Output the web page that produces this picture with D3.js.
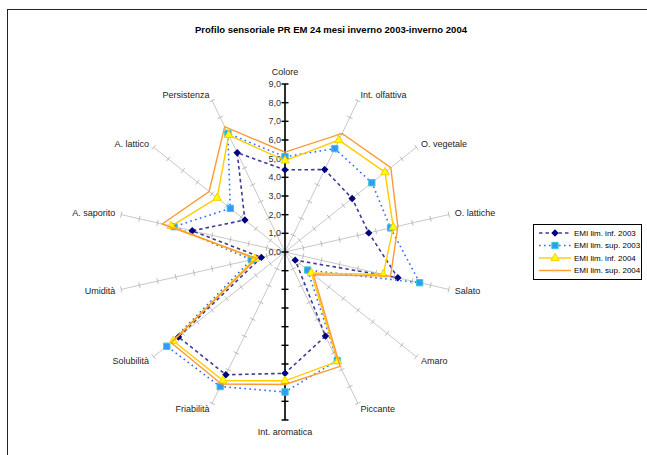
<!DOCTYPE html>
<html>
<head>
<meta charset="utf-8">
<script src="https://cdn.jsdelivr.net/npm/d3@7"></script>
<style>
	body { margin: 0; background: #fff; }
	svg { display: block; font-family: "Liberation Sans", Arial, sans-serif; }
</style>
</head>
<body>
<svg id="chart" width="647" height="455"></svg>
<script>
'use strict';

// categories clockwise from the top
var categories = ["Colore", "Int. olfattiva", "O. vegetale", "O. lattiche", "Salato", "Amaro", "Piccante",
	"Int. aromatica", "Friabilità", "Solubilità", "Umidità", "A. saporito", "A. lattico", "Persistenza"];

var inf2003 = [4.4, 4.9, 4.6, 4.6, 6.2, 0.7, 5.0, 6.5, 7.3, 7.3, 1.3, 5.1, 2.75, 5.9];
var sup2003 = [5.1, 6.15, 5.95, 5.8, 7.4, 1.55, 6.45, 7.5, 8.0, 8.1, 1.85, 6.1, 3.75, 7.05];
var inf2004 = [4.9, 6.65, 6.85, 5.95, 5.4, 1.8, 6.5, 6.9, 7.65, 7.65, 1.65, 6.25, 4.65, 6.95];
var sup2004 = [5.35, 7.05, 7.25, 6.2, 5.8, 1.95, 6.8, 7.1, 7.85, 7.8, 1.55, 6.75, 5.2, 7.45];

var seriesNames = ["EMI lim. inf. 2003", "EMI lim. sup. 2003", "EMI lim. inf. 2004", "EMI lim. sup. 2004"];
var tickValues = [0, 1, 2, 3, 4, 5, 6, 7, 8, 9];

var title = "Profilo sensoriale PR EM 24 mesi inverno 2003-inverno 2004";

var styles = [
	{line: "#3c3c94", width: 1.6, dash: "3.5,3", marker: "diamond", fill: "#000080", stroke: "#000080"},
	{line: "#3366ff", width: 1.6, dash: "1.6,3.4", marker: "square", fill: "#3399ff", stroke: "#33cccc"},
	{line: "#ffcc00", width: 1.4, dash: null, marker: "triangle", fill: "#ffff00", stroke: "#ffcc00"},
	{line: "#ff9933", width: 1.4, dash: null, marker: "x", fill: "none", stroke: "#ffcc99"}
];

function markerPath(kind) {
	if (kind == "diamond") {
		return d3.symbol().type(d3.symbolSquare).size(18)();
	}
	if (kind == "square") {
		return d3.symbol().type(d3.symbolSquare).size(40)();
	}
	if (kind == "triangle") {
		return d3.symbol().type(d3.symbolTriangle).size(30)();
	}
	return "M-2,-2L2,2M-2,2L2,-2";
}

function markerRotate(kind) {
	return kind == "diamond" ? " rotate(45)" : "";
}

function drawRadar(svgName) {
	let svg = d3.select(svgName),
	cx = 285,
	cy = 252,
	radius = 168,
	step = 2 * Math.PI / categories.length;

	// chart border (right and bottom sides fall off the picture)
	svg.append("rect")
	.attr("x", 7.5)
	.attr("y", 9.5)
	.attr("width", 700)
	.attr("height", 500)
	.attr("fill", "none")
	.attr("stroke", "#222")
	.attr("stroke-width", 1);

	svg.append("text")
	.attr("x", 331)
	.attr("y", 33)
	.attr("text-anchor", "middle")
	.style("font-size", "9.5px")
	.style("font-weight", "bold")
	.attr("fill", "#000")
	.text(title);

	let r = d3.scaleLinear()
		.domain([0, 9])
		.range([0, radius]);

	let g = svg.append("g").attr("transform", "translate(" + cx + "," + cy + ")");

	// spokes with small cross ticks
	categories.forEach(function (name, i) {
		let a = i * step;
		let sx = Math.sin(a), sy = -Math.cos(a);
		g.append("line")
		.attr("x1", 0).attr("y1", 0)
		.attr("x2", r(9) * sx).attr("y2", r(9) * sy)
		.attr("stroke", "#b0b0b0")
		.attr("stroke-width", 0.7);
		tickValues.slice(1).forEach(function (t) {
			let px = r(t) * sx, py = r(t) * sy;
			g.append("line")
			.attr("x1", px + 3 * Math.cos(a)).attr("y1", py + 3 * Math.sin(a))
			.attr("x2", px - 3 * Math.cos(a)).attr("y2", py - 3 * Math.sin(a))
			.attr("stroke", "#a0a0a0")
			.attr("stroke-width", 0.7);
		});

		let lr = (Math.abs(sx) < 0.1) ? radius + 12 : radius + 6;
		let anchor = "middle";
		if (sx > 0.1) {
			anchor = "start";
		}
		else if (sx < -0.1) {
			anchor = "end";
		}
		g.append("text")
		.attr("x", lr * sx)
		.attr("y", lr * sy)
		.attr("dy", "0.35em")
		.attr("text-anchor", anchor)
		.style("font-size", "9px")
		.attr("fill", "#222")
		.text(name);
	});

	// value axis along Colore / Int. aromatica
	g.append("line")
	.attr("x1", 0).attr("y1", -r(9))
	.attr("x2", 0).attr("y2", r(9))
	.attr("stroke", "#000")
	.attr("stroke-width", 1.6);

	tickValues.forEach(function (t) {
		[-1, 1].forEach(function (s) {
			if (t == 0 && s == 1) {
				return;
			}
			g.append("line")
			.attr("x1", -3.5).attr("x2", 3.5)
			.attr("y1", s * r(t)).attr("y2", s * r(t))
			.attr("stroke", "#000")
			.attr("stroke-width", 1.4);
		});
		g.append("text")
		.attr("x", -4)
		.attr("y", -r(t))
		.attr("dy", "0.35em")
		.attr("text-anchor", "end")
		.style("font-size", "9px")
		.attr("fill", "#333")
		.text(d3.format(".1f")(t).replace(".", ","));
	});

	let line = d3.lineRadial()
		.angle(function (d, i) { return i * step; })
		.radius(function (d) { return r(d); })
		.curve(d3.curveLinearClosed);

	let allSeries = [inf2003, sup2003, inf2004, sup2004];
	allSeries.forEach(function (values, k) {
		let st = styles[k];
		g.append("path")
		.attr("d", line(values))
		.attr("fill", "none")
		.attr("stroke", st.line)
		.attr("stroke-width", st.width)
		.attr("stroke-dasharray", st.dash);

		if (st.marker == "x") {
			return;
		}
		g.selectAll(".m" + k)
		.data(values)
		.enter().append("path")
		.attr("class", "m" + k)
		.attr("d", markerPath(st.marker))
		.attr("transform", function (d, i) {
			let a = i * step;
			return "translate(" + (r(d) * Math.sin(a)) + "," + (-r(d) * Math.cos(a)) + ")" + markerRotate(st.marker);
		})
		.attr("fill", st.fill)
		.attr("stroke", st.stroke)
		.attr("stroke-width", 1);
	});

	// legend
	let lg = svg.append("g").attr("transform", "translate(533,224)");
	lg.append("rect")
	.attr("x", 0.5).attr("y", 0.5)
	.attr("width", 108).attr("height", 55)
	.attr("fill", "#fff")
	.attr("stroke", "#000")
	.attr("stroke-width", 1);

	seriesNames.forEach(function (name, k) {
		let st = styles[k];
		let y = 9 + k * 12.5;
		lg.append("line")
		.attr("x1", 6).attr("x2", 38)
		.attr("y1", y).attr("y2", y)
		.attr("stroke", st.line)
		.attr("stroke-width", st.width)
		.attr("stroke-dasharray", st.dash);
		lg.append("path")
		.attr("d", markerPath(st.marker))
		.attr("transform", "translate(22," + y + ")" + markerRotate(st.marker))
		.attr("fill", st.fill)
		.attr("stroke", st.stroke)
		.attr("stroke-width", 1);
		lg.append("text")
		.attr("x", 41)
		.attr("y", y)
		.attr("dy", "0.35em")
		.style("font-size", "8px")
		.attr("fill", "#000")
		.text(name);
	});
}

drawRadar("#chart");
</script>
</body>
</html>
